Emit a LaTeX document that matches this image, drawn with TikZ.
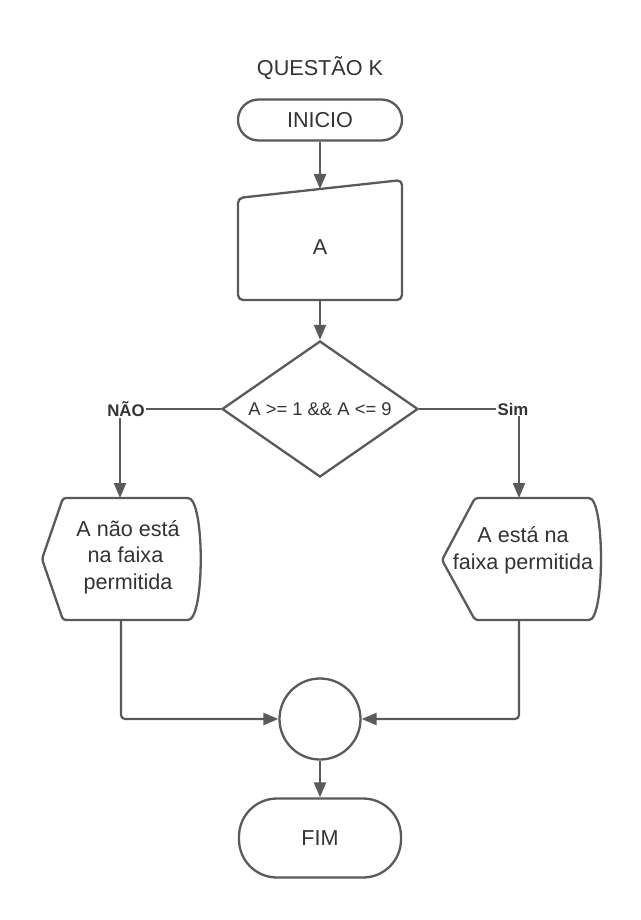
\documentclass[tikz,border=0pt]{standalone}
\usepackage{fontspec}
\setmainfont{Liberation Sans}
\usetikzlibrary{arrows.meta,shapes.geometric}
\definecolor{ln}{HTML}{5A5A5A}
\definecolor{tx}{HTML}{333333}
\begin{document}
\begin{tikzpicture}[x=1pt,y=-1pt,
  shp/.style={draw=ln,line width=2.3pt,fill=white},
  conn/.style={draw=ln,line width=2.2pt,-{Triangle[length=15pt,width=12pt]}},
  plain/.style={draw=ln,line width=2.2pt},
  lbl/.style={text=tx,font=\fontsize{21.6}{26.7}\selectfont,align=center},
  yn/.style={text=tx,font=\bfseries\fontsize{16.8}{20}\selectfont,inner sep=1pt}]
\useasboundingbox[fill=white] (0,0) rectangle (640,920);

\node[lbl] (title) at (320,68) {QUESTÃO K};

\node[shp,lbl,rounded corners=20.5pt,minimum width=164pt,minimum height=41pt,inner sep=0pt] (ini) at (320,120) {INICIO};

% manual input A
\draw[shp,rounded corners=5pt] (238,198) -- (402,180) -- (402,300) -- (238,300) -- cycle;
\node[lbl] (a) at (320,247) {A};
\coordinate (atop) at (320,189);
\coordinate (abot) at (320,300);

% decision
\node[shp,shape=diamond,aspect=1.44,minimum width=196pt,minimum height=136pt,inner sep=0pt,
  text=tx,font=\fontsize{18.4}{22}\selectfont] (dec) at (320,409) {A >= 1 \&\& A <= 9};

\node[yn] (nao) at (126,409) {NÃO};
\node[yn] (sim) at (513,409) {Sim};

% left display
\draw[shp,rounded corners=3pt] (42,559) -- (63,498) -- (185,498) .. controls (205,498) and (205,620) .. (185,620) -- (63,620) -- cycle;
\node[lbl] (ltxt) at (128,557) {A não está\\na faixa\kern5pt\\permitida};
\coordinate (ltop) at (120,498);
\coordinate (lbot) at (121,620);

% right display
\draw[shp,rounded corners=3pt] (442,560) -- (475,498) -- (586,498) .. controls (605,498) and (605,620) .. (586,620) -- (475,620) -- cycle;
\node[lbl] (rtxt) at (523,550) {A está na\\faixa permitida};
\coordinate (rtop) at (519,498);
\coordinate (rbot) at (519,620);

% connector circle
\node[shp,circle,minimum size=81pt,inner sep=0pt] (cir) at (320,719) {};

\node[shp,lbl,rounded corners=38pt,minimum width=162pt,minimum height=79pt,inner sep=0pt] (fim) at (320,838) {FIM};

% connectors
\draw[conn] (ini.south) -- (atop);
\draw[conn] (abot) -- (dec.north);
\draw[plain] (dec.west) -- (dec.west -| nao.east);
\draw[plain] (dec.east) -- (dec.east -| sim.west);
\draw[conn] (nao.south -| ltop) -- (ltop);
\draw[conn] (sim.south -| rtop) -- (rtop);
\draw[conn,rounded corners=4pt] (lbot) |- (cir.west);
\draw[conn,rounded corners=4pt] (rbot) |- (cir.east);
\draw[conn] (cir.south) -- (fim.north);
\end{tikzpicture}
\end{document}
